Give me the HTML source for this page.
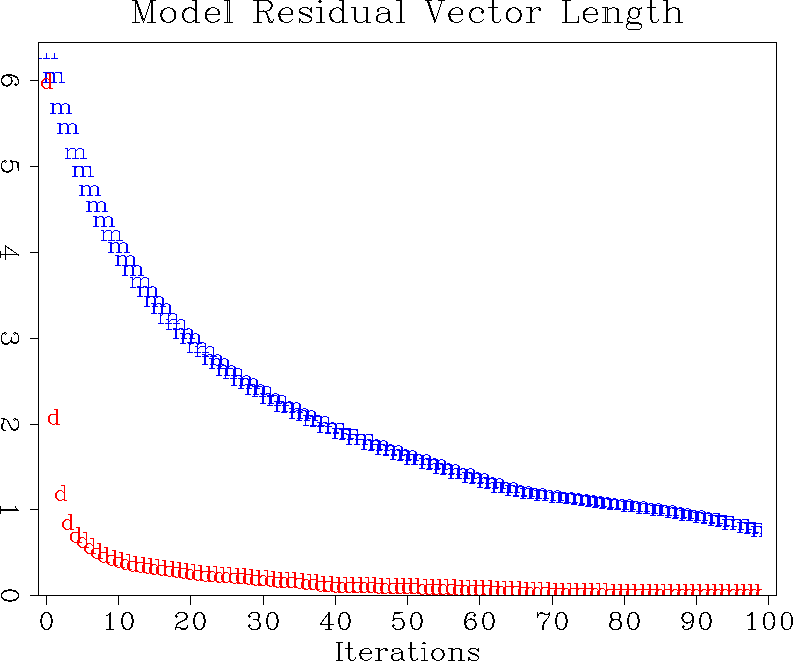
<!DOCTYPE html>
<html><head><meta charset="utf-8"><title>Model Residual Vector Length</title>
<style>
html,body{margin:0;padding:0;background:#fff;}
body{width:793px;height:661px;overflow:hidden;font-family:"Liberation Serif",serif;}
svg{display:block;}
</style></head><body>
<svg width="793" height="661" viewBox="0 0 793 661">
<defs>

<clipPath id="cp"><rect x="39" y="53" width="723" height="542"/></clipPath></defs>
<rect width="793" height="661" fill="#fff"/>
<defs><path id="mf" d="M0 -11h11v1h-11zM12 -11h7v1h-7zM2 -10h3v1h-3zM9 -10h3v1h-3zM17 -10h2v1h-2zM2 -9h2v1h-2zM10 -9h2v1h-2zM18 -9h1v1h-1zM2 -8h2v1h-2zM10 -8h2v1h-2zM18 -8h1v1h-1zM2 -7h2v1h-2zM10 -7h2v1h-2zM18 -7h1v1h-1zM2 -6h2v1h-2zM10 -6h2v1h-2zM18 -6h1v1h-1zM2 -5h2v1h-2zM10 -5h2v1h-2zM18 -5h1v1h-1zM2 -4h2v1h-2zM10 -4h2v1h-2zM18 -4h1v1h-1zM2 -3h2v1h-2zM10 -3h2v1h-2zM18 -3h1v1h-1zM2 -2h2v1h-2zM10 -2h2v1h-2zM18 -2h1v1h-1zM0 -1h6v1h-6zM8 -1h6v1h-6zM16 -1h6v1h-6z"/><path id="mh" d="M0 -11h4v1h-4zM6 -11h4v1h-4zM14 -11h3v1h-3zM2 -10h4v1h-4zM9 -10h2v1h-2zM12 -10h2v1h-2zM17 -10h2v1h-2zM2 -9h2v1h-2zM10 -9h2v1h-2zM18 -9h2v1h-2zM2 -8h2v1h-2zM10 -8h2v1h-2zM18 -8h2v1h-2zM2 -7h2v1h-2zM10 -7h2v1h-2zM18 -7h2v1h-2zM2 -6h2v1h-2zM10 -6h2v1h-2zM18 -6h2v1h-2zM2 -5h2v1h-2zM10 -5h2v1h-2zM18 -5h2v1h-2zM2 -4h2v1h-2zM10 -4h2v1h-2zM18 -4h2v1h-2zM2 -3h2v1h-2zM10 -3h2v1h-2zM18 -3h2v1h-2zM2 -2h2v1h-2zM10 -2h2v1h-2zM18 -2h2v1h-2zM0 -1h6v1h-6zM8 -1h6v1h-6zM16 -1h6v1h-6z"/><path id="mt" d="M0 -11h3v1h-3zM5 -11h5v1h-5zM13 -11h4v1h-4zM2 -10h1v1h-1zM4 -10h1v1h-1zM10 -10h1v1h-1zM12 -10h1v1h-1zM17 -10h2v1h-2zM2 -9h2v1h-2zM10 -9h2v1h-2zM18 -9h1v1h-1zM2 -8h1v1h-1zM10 -8h1v1h-1zM18 -8h1v1h-1zM2 -7h1v1h-1zM10 -7h1v1h-1zM18 -7h1v1h-1zM2 -6h1v1h-1zM10 -6h1v1h-1zM18 -6h1v1h-1zM2 -5h1v1h-1zM10 -5h1v1h-1zM18 -5h1v1h-1zM2 -4h1v1h-1zM10 -4h1v1h-1zM18 -4h1v1h-1zM2 -3h1v1h-1zM10 -3h1v1h-1zM18 -3h1v1h-1zM2 -2h1v1h-1zM10 -2h1v1h-1zM18 -2h1v1h-1zM0 -1h6v1h-6zM7 -1h7v1h-7zM15 -1h7v1h-7z"/><path id="dh" d="M6 -16h4v1h-4zM8 -15h2v1h-2zM8 -14h2v1h-2zM8 -13h2v1h-2zM8 -12h2v1h-2zM2 -11h8v1h-8zM1 -10h2v1h-2zM8 -10h2v1h-2zM0 -9h2v1h-2zM8 -9h2v1h-2zM0 -8h2v1h-2zM8 -8h2v1h-2zM0 -7h2v1h-2zM8 -7h2v1h-2zM0 -6h2v1h-2zM8 -6h2v1h-2zM0 -5h2v1h-2zM8 -5h2v1h-2zM0 -4h2v1h-2zM8 -4h2v1h-2zM1 -3h2v1h-2zM8 -3h2v1h-2zM2 -2h2v1h-2zM7 -2h3v1h-3zM4 -1h3v1h-3zM8 -1h4v1h-4z"/><path id="dt" d="M6 -16h4v1h-4zM9 -15h1v1h-1zM9 -14h1v1h-1zM9 -13h1v1h-1zM9 -12h1v1h-1zM3 -11h4v1h-4zM9 -11h1v1h-1zM2 -10h2v1h-2zM7 -10h1v1h-1zM9 -10h1v1h-1zM1 -9h2v1h-2zM8 -9h2v1h-2zM0 -8h2v1h-2zM9 -8h1v1h-1zM0 -7h2v1h-2zM9 -7h1v1h-1zM0 -6h2v1h-2zM9 -6h1v1h-1zM0 -5h2v1h-2zM9 -5h1v1h-1zM0 -4h2v1h-2zM9 -4h1v1h-1zM1 -3h2v1h-2zM9 -3h1v1h-1zM2 -2h2v1h-2zM7 -2h3v1h-3zM3 -1h4v1h-4zM9 -1h3v1h-3z"/><path id="dm" d="M6 -16h4v1h-4zM8 -15h2v1h-2zM8 -14h2v1h-2zM8 -13h2v1h-2zM8 -12h2v1h-2zM3 -11h4v1h-4zM8 -11h2v1h-2zM2 -10h2v1h-2zM7 -10h3v1h-3zM1 -9h2v1h-2zM8 -9h2v1h-2zM0 -8h2v1h-2zM8 -8h2v1h-2zM0 -7h2v1h-2zM8 -7h2v1h-2zM0 -6h2v1h-2zM8 -6h2v1h-2zM0 -5h2v1h-2zM8 -5h2v1h-2zM0 -4h2v1h-2zM8 -4h2v1h-2zM1 -3h2v1h-2zM8 -3h2v1h-2zM2 -2h2v1h-2zM7 -2h3v1h-3zM3 -1h4v1h-4zM8 -1h4v1h-4z"/></defs>
<g clip-path="url(#cp)" shape-rendering="crispEdges">
<g fill="#0000ff">
<use href="#mt" x="36" y="59"/>
<use href="#mf" x="43" y="83"/>
<use href="#mh" x="50" y="114"/>
<use href="#mh" x="57" y="134"/>
<use href="#mt" x="65" y="159"/>
<use href="#mf" x="72" y="177"/>
<use href="#mh" x="79" y="196"/>
<use href="#mh" x="86" y="212"/>
<use href="#mh" x="93" y="227"/>
<use href="#mt" x="101" y="241"/>
<use href="#mh" x="108" y="253"/>
<use href="#mh" x="115" y="266"/>
<use href="#mh" x="122" y="276"/>
<use href="#mt" x="130" y="288"/>
<use href="#mh" x="137" y="297"/>
<use href="#mh" x="144" y="307"/>
<use href="#mh" x="151" y="314"/>
<use href="#mt" x="158" y="324"/>
<use href="#mt" x="166" y="330"/>
<use href="#mh" x="173" y="339"/>
<use href="#mh" x="180" y="344"/>
<use href="#mt" x="187" y="353"/>
<use href="#mt" x="195" y="357"/>
<use href="#mh" x="202" y="365"/>
<use href="#mh" x="209" y="369"/>
<use href="#mh" x="216" y="376"/>
<use href="#mt" x="223" y="379"/>
<use href="#mh" x="231" y="386"/>
<use href="#mh" x="238" y="389"/>
<use href="#mh" x="245" y="395"/>
<use href="#mt" x="252" y="397"/>
<use href="#mh" x="260" y="404"/>
<use href="#mt" x="267" y="406"/>
<use href="#mh" x="274" y="412"/>
<use href="#mh" x="281" y="413"/>
<use href="#mh" x="289" y="419"/>
<use href="#mh" x="296" y="421"/>
<use href="#mt" x="303" y="426"/>
<use href="#mt" x="310" y="427"/>
<use href="#mh" x="317" y="433"/>
<use href="#mf" x="325" y="434"/>
<use href="#mf" x="332" y="439"/>
<use href="#mf" x="339" y="440"/>
<use href="#mf" x="346" y="445"/>
<use href="#mf" x="354" y="445"/>
<use href="#mh" x="361" y="450"/>
<use href="#mh" x="368" y="451"/>
<use href="#mh" x="375" y="455"/>
<use href="#mh" x="383" y="456"/>
<use href="#mh" x="390" y="460"/>
<use href="#mh" x="397" y="461"/>
<use href="#mh" x="404" y="465"/>
<use href="#mh" x="411" y="465"/>
<use href="#mh" x="419" y="469"/>
<use href="#mh" x="426" y="470"/>
<use href="#mh" x="433" y="474"/>
<use href="#mh" x="440" y="475"/>
<use href="#mh" x="448" y="479"/>
<use href="#mh" x="455" y="479"/>
<use href="#mh" x="462" y="483"/>
<use href="#mh" x="469" y="484"/>
<use href="#mh" x="477" y="488"/>
<use href="#mh" x="484" y="489"/>
<use href="#mh" x="491" y="493"/>
<use href="#mh" x="498" y="493"/>
<use href="#mh" x="505" y="496"/>
<use href="#mh" x="513" y="497"/>
<use href="#mh" x="520" y="499"/>
<use href="#mh" x="527" y="499"/>
<use href="#mh" x="534" y="501"/>
<use href="#mh" x="542" y="501"/>
<use href="#mh" x="549" y="503"/>
<use href="#mh" x="556" y="503"/>
<use href="#mh" x="563" y="504"/>
<use href="#mh" x="571" y="505"/>
<use href="#mh" x="578" y="506"/>
<use href="#mh" x="585" y="507"/>
<use href="#mh" x="592" y="508"/>
<use href="#mh" x="599" y="509"/>
<use href="#mh" x="607" y="510"/>
<use href="#mh" x="614" y="510"/>
<use href="#mh" x="621" y="512"/>
<use href="#mh" x="628" y="512"/>
<use href="#mh" x="636" y="514"/>
<use href="#mh" x="643" y="514"/>
<use href="#mh" x="650" y="516"/>
<use href="#mh" x="657" y="516"/>
<use href="#mh" x="665" y="518"/>
<use href="#mh" x="672" y="519"/>
<use href="#mh" x="679" y="521"/>
<use href="#mh" x="686" y="521"/>
<use href="#mh" x="693" y="523"/>
<use href="#mf" x="701" y="524"/>
<use href="#mf" x="708" y="526"/>
<use href="#mf" x="715" y="527"/>
<use href="#mf" x="722" y="530"/>
<use href="#mf" x="730" y="530"/>
<use href="#mf" x="737" y="533"/>
<use href="#mf" x="744" y="534"/>
<use href="#mf" x="751" y="537"/>
</g><g fill="#ff0000">
<use href="#dm" x="41" y="89"/>
<use href="#dh" x="48" y="425"/>
<use href="#dt" x="55" y="501"/>
<use href="#dm" x="62" y="530"/>
<use href="#dh" x="70" y="543"/>
<use href="#dt" x="77" y="548"/>
<use href="#dt" x="84" y="554"/>
<use href="#dh" x="91" y="559"/>
<use href="#dh" x="98" y="563"/>
<use href="#dh" x="106" y="566"/>
<use href="#dh" x="113" y="568"/>
<use href="#dt" x="120" y="570"/>
<use href="#dh" x="127" y="572"/>
<use href="#dh" x="135" y="573"/>
<use href="#dh" x="142" y="574"/>
<use href="#dt" x="149" y="575"/>
<use href="#dh" x="156" y="576"/>
<use href="#dh" x="164" y="577"/>
<use href="#dh" x="171" y="578"/>
<use href="#dh" x="178" y="579"/>
<use href="#dt" x="185" y="580"/>
<use href="#dh" x="192" y="581"/>
<use href="#dh" x="200" y="582"/>
<use href="#dt" x="207" y="582"/>
<use href="#dt" x="214" y="583"/>
<use href="#dt" x="221" y="583"/>
<use href="#dh" x="229" y="584"/>
<use href="#dh" x="236" y="584"/>
<use href="#dh" x="243" y="585"/>
<use href="#dh" x="250" y="586"/>
<use href="#dt" x="258" y="586"/>
<use href="#dh" x="265" y="587"/>
<use href="#dh" x="272" y="588"/>
<use href="#dt" x="279" y="588"/>
<use href="#dh" x="286" y="588"/>
<use href="#dh" x="294" y="589"/>
<use href="#dt" x="301" y="590"/>
<use href="#dh" x="308" y="590"/>
<use href="#dh" x="315" y="592"/>
<use href="#dh" x="323" y="592"/>
<use href="#dh" x="330" y="593"/>
<use href="#dt" x="337" y="593"/>
<use href="#dh" x="344" y="593"/>
<use href="#dh" x="352" y="593"/>
<use href="#dt" x="359" y="593"/>
<use href="#dh" x="366" y="593"/>
<use href="#dh" x="373" y="594"/>
<use href="#dt" x="380" y="594"/>
<use href="#dh" x="388" y="594"/>
<use href="#dh" x="395" y="594"/>
<use href="#dh" x="402" y="594"/>
<use href="#dh" x="409" y="594"/>
<use href="#dt" x="417" y="595"/>
<use href="#dh" x="424" y="595"/>
<use href="#dh" x="431" y="595"/>
<use href="#dt" x="438" y="595"/>
<use href="#dh" x="446" y="595"/>
<use href="#dh" x="453" y="596"/>
<use href="#dt" x="460" y="596"/>
<use href="#dh" x="467" y="596"/>
<use href="#dh" x="474" y="596"/>
<use href="#dh" x="482" y="596"/>
<use href="#dh" x="489" y="597"/>
<use href="#dt" x="496" y="597"/>
<use href="#dh" x="503" y="597"/>
<use href="#dh" x="511" y="597"/>
<use href="#dh" x="518" y="598"/>
<use href="#dt" x="525" y="598"/>
<use href="#dt" x="532" y="598"/>
<use href="#dh" x="540" y="598"/>
<use href="#dh" x="547" y="599"/>
<use href="#dh" x="554" y="599"/>
<use href="#dt" x="561" y="599"/>
<use href="#dh" x="568" y="599"/>
<use href="#dh" x="576" y="599"/>
<use href="#dh" x="583" y="599"/>
<use href="#dt" x="590" y="599"/>
<use href="#dt" x="597" y="599"/>
<use href="#dh" x="605" y="600"/>
<use href="#dh" x="612" y="600"/>
<use href="#dh" x="619" y="600"/>
<use href="#dh" x="626" y="600"/>
<use href="#dh" x="634" y="600"/>
<use href="#dh" x="641" y="600"/>
<use href="#dh" x="648" y="600"/>
<use href="#dt" x="655" y="600"/>
<use href="#dh" x="662" y="600"/>
<use href="#dm" x="670" y="600"/>
<use href="#dm" x="677" y="600"/>
<use href="#dm" x="684" y="600"/>
<use href="#dm" x="691" y="600"/>
<use href="#dm" x="699" y="600"/>
<use href="#dm" x="706" y="600"/>
<use href="#dm" x="713" y="600"/>
<use href="#dm" x="720" y="600"/>
<use href="#dm" x="728" y="600"/>
<use href="#dm" x="735" y="600"/>
<use href="#dm" x="742" y="600"/>
<use href="#dm" x="749" y="600"/>
<use href="#dm" x="756" y="600"/>
</g></g>
<g stroke="#000" stroke-width="1" fill="none" shape-rendering="crispEdges">
<rect x="38.5" y="42.5" width="738" height="553"/>
<line x1="46.5" y1="595.5" x2="46.5" y2="605"/>
<line x1="118.5" y1="595.5" x2="118.5" y2="605"/>
<line x1="190.5" y1="595.5" x2="190.5" y2="605"/>
<line x1="263.5" y1="595.5" x2="263.5" y2="605"/>
<line x1="335.5" y1="595.5" x2="335.5" y2="605"/>
<line x1="407.5" y1="595.5" x2="407.5" y2="605"/>
<line x1="479.5" y1="595.5" x2="479.5" y2="605"/>
<line x1="552.5" y1="595.5" x2="552.5" y2="605"/>
<line x1="624.5" y1="595.5" x2="624.5" y2="605"/>
<line x1="696.5" y1="595.5" x2="696.5" y2="605"/>
<line x1="768.5" y1="595.5" x2="768.5" y2="605"/>
<line x1="30" y1="595.5" x2="38.5" y2="595.5"/>
<line x1="30" y1="509.5" x2="38.5" y2="509.5"/>
<line x1="30" y1="424.5" x2="38.5" y2="424.5"/>
<line x1="30" y1="338.5" x2="38.5" y2="338.5"/>
<line x1="30" y1="252.5" x2="38.5" y2="252.5"/>
<line x1="30" y1="166.5" x2="38.5" y2="166.5"/>
<line x1="30" y1="80.5" x2="38.5" y2="80.5"/>
</g>
<g stroke="#000" stroke-width="1" fill="none" stroke-linecap="square" id="ht" shape-rendering="crispEdges">
<path d="M135.8 0.5L143.4 22.5M151 0.5L143.4 22.5M135.8 0.5L135.8 22.5M151 0.5L151 22.5M152.1 0.5L152.1 22.5M136.9 0.5L143.4 19.4M147.8 22.5L155.3 22.5M132.6 22.5L139.1 22.5M132.6 0.5L136.9 0.5M151 0.5L155.3 0.5M167.3 7.8L164 8.9M169.4 7.8L172.7 8.9M161.8 11L160.8 14.1M162.9 11L161.8 14.1M173.8 11L174.8 14.1M174.8 11L175.9 14.1M160.8 16.2L161.8 19.4M161.8 16.2L162.9 19.4M174.8 16.2L173.8 19.4M175.9 16.2L174.8 19.4M164 21.5L167.3 22.5M172.7 21.5L169.4 22.5M164 8.9L161.8 11M165.1 8.9L162.9 11M171.6 8.9L173.8 11M172.7 8.9L174.8 11M161.8 19.4L164 21.5M162.9 19.4L165.1 21.5M173.8 19.4L171.6 21.5M174.8 19.4L172.7 21.5M167.3 7.8L165.1 8.9M169.4 7.8L171.6 8.9M165.1 21.5L167.3 22.5M171.6 21.5L169.4 22.5M167.3 7.8L169.4 7.8M160.8 14.1L160.8 16.2M161.8 14.1L161.8 16.2M174.8 14.1L174.8 16.2M175.9 14.1L175.9 16.2M167.3 22.5L169.4 22.5M195.4 0.5L195.4 22.5M196.5 0.5L196.5 22.5M192.2 0.5L196.5 0.5M195.4 22.5L199.7 22.5M188.9 7.8L185.7 8.9M183.5 11L182.4 14.1M184.6 11L183.5 14.1M182.4 16.2L183.5 19.4M183.5 16.2L184.6 19.4M185.7 21.5L188.9 22.5M185.7 8.9L183.5 11M186.8 8.9L184.6 11M193.2 8.9L195.4 11M183.5 19.4L185.7 21.5M184.6 19.4L186.8 21.5M195.4 19.4L193.2 21.5M188.9 7.8L186.8 8.9M191.1 7.8L193.2 8.9M186.8 21.5L188.9 22.5M193.2 21.5L191.1 22.5M188.9 7.8L191.1 7.8M182.4 14.1L182.4 16.2M183.5 14.1L183.5 16.2M188.9 22.5L191.1 22.5M206.2 14.1L219.2 14.1M218.2 9.9L218.2 14.1M211.7 7.8L208.4 8.9M206.2 11L205.2 14.1M207.3 11L206.2 14.1M205.2 16.2L206.2 19.4M206.2 16.2L207.3 19.4M208.4 21.5L211.7 22.5M217.1 21.5L213.8 22.5M211.7 7.8L214.9 7.8M208.4 8.9L206.2 11M209.5 8.9L207.3 11M206.2 19.4L208.4 21.5M207.3 19.4L209.5 21.5M219.2 19.4L217.1 21.5M211.7 7.8L209.5 8.9M214.9 7.8L217.1 8.9M217.1 8.9L218.2 11M218.2 9.9L219.2 12M209.5 21.5L211.7 22.5M219.2 12L219.2 14.1M205.2 14.1L205.2 16.2M206.2 14.1L206.2 16.2M211.7 22.5L213.8 22.5M217.1 8.9L218.2 9.9M227.9 0.5L227.9 22.5M229 0.5L229 22.5M224.7 22.5L232.2 22.5M224.7 0.5L229 0.5M257.1 0.5L257.1 22.5M258.2 0.5L258.2 22.5M253.9 0.5L266.9 0.5M258.2 11L266.9 11M266.9 13.1L270.1 20.4M266.9 14.1L269.1 21.5M253.9 22.5L261.5 22.5M266.9 0.5L270.1 1.5M270.1 9.9L266.9 11M266.9 0.5L269.1 1.5M270.1 2.6L271.2 4.7M271.2 2.6L272.3 4.7M271.2 6.8L270.1 8.9M272.3 6.8L271.2 8.9M269.1 9.9L266.9 11M263.6 11L265.8 12M265.8 12L266.9 14.1M273.4 20.4L272.3 22.5M271.2 4.7L271.2 6.8M272.3 4.7L272.3 6.8M270.1 22.5L272.3 22.5M269.1 1.5L270.1 2.6M270.1 1.5L271.2 2.6M270.1 8.9L269.1 9.9M271.2 8.9L270.1 9.9M265.8 12L266.9 13.1M270.1 20.4L271.2 21.5M273.4 20.4L272.3 21.5M269.1 21.5L270.1 22.5M273.4 19.4L273.4 20.4M271.2 21.5L272.3 21.5M279.9 14.1L292.9 14.1M291.8 9.9L291.8 14.1M285.3 7.8L282.1 8.9M279.9 11L278.8 14.1M281 11L279.9 14.1M278.8 16.2L279.9 19.4M279.9 16.2L281 19.4M282.1 21.5L285.3 22.5M290.7 21.5L287.5 22.5M285.3 7.8L288.6 7.8M282.1 8.9L279.9 11M283.1 8.9L281 11M279.9 19.4L282.1 21.5M281 19.4L283.1 21.5M292.9 19.4L290.7 21.5M285.3 7.8L283.1 8.9M288.6 7.8L290.7 8.9M290.7 8.9L291.8 11M291.8 9.9L292.9 12M283.1 21.5L285.3 22.5M292.9 12L292.9 14.1M278.8 14.1L278.8 16.2M279.9 14.1L279.9 16.2M285.3 22.5L287.5 22.5M290.7 8.9L291.8 9.9M300.5 12L310.2 16.2M300.5 13.1L310.2 17.3M302.6 7.8L307 7.8M311.3 7.8L311.3 12M299.4 18.3L299.4 22.5M303.7 22.5L308 22.5M311.3 17.3L311.3 20.4M302.6 7.8L300.5 8.9M307 7.8L309.1 8.9M311.3 7.8L310.2 9.9M310.2 9.9L311.3 12M299.4 18.3L300.5 20.4M300.5 20.4L299.4 22.5M301.5 21.5L303.7 22.5M310.2 21.5L308 22.5M299.4 9.9L299.4 12M300.5 8.9L299.4 9.9M309.1 8.9L310.2 9.9M299.4 11L300.5 12M299.4 12L300.5 13.1M310.2 16.2L311.3 17.3M310.2 17.3L311.3 18.3M300.5 20.4L301.5 21.5M311.3 20.4L310.2 21.5M320 7.8L320 22.5M321 7.8L321 22.5M316.7 22.5L324.3 22.5M316.7 7.8L321 7.8M320 0.5L318.9 1.5M320 0.5L321 1.5M318.9 1.5L320 2.6M321 1.5L320 2.6M318.9 1.5L321 1.5M342.7 0.5L342.7 22.5M343.8 0.5L343.8 22.5M339.5 0.5L343.8 0.5M342.7 22.5L347 22.5M336.2 7.8L333 8.9M330.8 11L329.7 14.1M331.9 11L330.8 14.1M329.7 16.2L330.8 19.4M330.8 16.2L331.9 19.4M333 21.5L336.2 22.5M333 8.9L330.8 11M334 8.9L331.9 11M340.5 8.9L342.7 11M330.8 19.4L333 21.5M331.9 19.4L334 21.5M342.7 19.4L340.5 21.5M336.2 7.8L334 8.9M338.4 7.8L340.5 8.9M334 21.5L336.2 22.5M340.5 21.5L338.4 22.5M336.2 7.8L338.4 7.8M329.7 14.1L329.7 16.2M330.8 14.1L330.8 16.2M336.2 22.5L338.4 22.5M366.5 7.8L366.5 22.5M367.6 7.8L367.6 22.5M354.6 7.8L354.6 19.4M355.7 7.8L355.7 19.4M351.4 7.8L355.7 7.8M363.3 7.8L367.6 7.8M366.5 22.5L370.9 22.5M355.7 21.5L358.9 22.5M364.4 21.5L361.1 22.5M366.5 19.4L364.4 21.5M354.6 19.4L355.7 21.5M355.7 19.4L356.8 21.5M356.8 21.5L358.9 22.5M358.9 22.5L361.1 22.5M388.2 9.9L388.2 19.4M389.3 12L389.3 19.4M387.1 13.1L380.6 14.1M380.6 7.8L384.9 7.8M380.6 14.1L377.4 15.2M377.4 21.5L380.6 22.5M380.6 22.5L383.9 22.5M388.2 19.4L386 21.5M380.6 7.8L378.4 8.9M384.9 7.8L387.1 8.9M388.2 9.9L389.3 12M380.6 14.1L378.4 15.2M377.4 15.2L376.3 17.3M378.4 15.2L377.4 17.3M376.3 19.4L377.4 21.5M377.4 19.4L378.4 21.5M388.2 19.4L389.3 21.5M389.3 19.4L390.4 21.5M378.4 21.5L380.6 22.5M386 21.5L383.9 22.5M389.3 21.5L391.4 22.5M376.3 17.3L376.3 19.4M377.4 17.3L377.4 19.4M378.4 8.9L377.4 9.9M387.1 8.9L388.2 9.9M388.2 12L387.1 13.1M390.4 21.5L391.4 22.5M377.4 9.9L377.4 11M378.4 9.9L378.4 11M377.4 11L378.4 11M391.4 22.5L392.5 22.5M400.1 0.5L400.1 22.5M401.2 0.5L401.2 22.5M396.9 22.5L404.4 22.5M396.9 0.5L401.2 0.5M427.2 0.5L434.8 22.5M442.3 0.5L434.8 22.5M428.3 0.5L434.8 19.4M425 0.5L431.5 0.5M438 0.5L444.5 0.5M449.9 14.1L462.9 14.1M461.8 9.9L461.8 14.1M455.3 7.8L452.1 8.9M449.9 11L448.8 14.1M451 11L449.9 14.1M448.8 16.2L449.9 19.4M449.9 16.2L451 19.4M452.1 21.5L455.3 22.5M460.7 21.5L457.5 22.5M455.3 7.8L458.6 7.8M452.1 8.9L449.9 11M453.2 8.9L451 11M449.9 19.4L452.1 21.5M451 19.4L453.2 21.5M462.9 19.4L460.7 21.5M455.3 7.8L453.2 8.9M458.6 7.8L460.7 8.9M460.7 8.9L461.8 11M461.8 9.9L462.9 12M453.2 21.5L455.3 22.5M462.9 12L462.9 14.1M448.8 14.1L448.8 16.2M449.9 14.1L449.9 16.2M455.3 22.5L457.5 22.5M460.7 8.9L461.8 9.9M475.9 7.8L472.7 8.9M470.5 11L469.4 14.1M471.6 11L470.5 14.1M469.4 16.2L470.5 19.4M470.5 16.2L471.6 19.4M472.7 21.5L475.9 22.5M481.3 21.5L478.1 22.5M475.9 7.8L479.2 7.8M472.7 8.9L470.5 11M473.7 8.9L471.6 11M481.3 8.9L483.5 11M470.5 19.4L472.7 21.5M471.6 19.4L473.7 21.5M483.5 19.4L481.3 21.5M475.9 7.8L473.7 8.9M479.2 7.8L481.3 8.9M473.7 21.5L475.9 22.5M469.4 14.1L469.4 16.2M470.5 14.1L470.5 16.2M475.9 22.5L478.1 22.5M482.4 11L481.3 12M481.3 12L482.4 13.1M483.5 12L482.4 13.1M483.5 11L483.5 12M492.2 0.5L492.2 18.3M493.2 0.5L493.2 18.3M488.9 7.8L497.6 7.8M492.2 18.3L493.2 21.5M493.2 18.3L494.3 21.5M500.8 19.4L499.7 21.5M493.2 21.5L495.4 22.5M499.7 21.5L497.6 22.5M495.4 22.5L497.6 22.5M494.3 21.5L495.4 22.5M512.7 7.8L509.5 8.9M514.9 7.8L518.1 8.9M507.3 11L506.2 14.1M508.4 11L507.3 14.1M519.2 11L520.3 14.1M520.3 11L521.4 14.1M506.2 16.2L507.3 19.4M507.3 16.2L508.4 19.4M520.3 16.2L519.2 19.4M521.4 16.2L520.3 19.4M509.5 21.5L512.7 22.5M518.1 21.5L514.9 22.5M509.5 8.9L507.3 11M510.6 8.9L508.4 11M517.1 8.9L519.2 11M518.1 8.9L520.3 11M507.3 19.4L509.5 21.5M508.4 19.4L510.6 21.5M519.2 19.4L517.1 21.5M520.3 19.4L518.1 21.5M512.7 7.8L510.6 8.9M514.9 7.8L517.1 8.9M510.6 21.5L512.7 22.5M517.1 21.5L514.9 22.5M512.7 7.8L514.9 7.8M506.2 14.1L506.2 16.2M507.3 14.1L507.3 16.2M520.3 14.1L520.3 16.2M521.4 14.1L521.4 16.2M512.7 22.5L514.9 22.5M530.1 7.8L530.1 22.5M531.1 7.8L531.1 22.5M526.8 22.5L534.4 22.5M526.8 7.8L531.1 7.8M532.2 11L531.1 14.1M536.6 7.8L539.8 7.8M534.4 8.9L532.2 11M536.6 7.8L534.4 8.9M539.8 7.8L540.9 8.9M539.8 8.9L538.7 9.9M538.7 9.9L539.8 11M540.9 9.9L539.8 11M540.9 8.9L540.9 9.9M565.8 0.5L565.8 22.5M566.9 0.5L566.9 22.5M562.6 22.5L578.8 22.5M562.6 0.5L570.1 0.5M578.8 16.2L577.7 22.5M578.8 16.2L578.8 22.5M584.2 14.1L597.2 14.1M596.1 9.9L596.1 14.1M589.6 7.8L586.4 8.9M584.2 11L583.1 14.1M585.3 11L584.2 14.1M583.1 16.2L584.2 19.4M584.2 16.2L585.3 19.4M586.4 21.5L589.6 22.5M595 21.5L591.8 22.5M589.6 7.8L592.9 7.8M586.4 8.9L584.2 11M587.5 8.9L585.3 11M584.2 19.4L586.4 21.5M585.3 19.4L587.5 21.5M597.2 19.4L595 21.5M589.6 7.8L587.5 8.9M592.9 7.8L595 8.9M595 8.9L596.1 11M596.1 9.9L597.2 12M587.5 21.5L589.6 22.5M597.2 12L597.2 14.1M583.1 14.1L583.1 16.2M584.2 14.1L584.2 16.2M589.6 22.5L591.8 22.5M595 8.9L596.1 9.9M605.9 7.8L605.9 22.5M607 7.8L607 22.5M617.8 11L617.8 22.5M618.9 11L618.9 22.5M602.6 22.5L610.2 22.5M614.5 22.5L622.1 22.5M602.6 7.8L607 7.8M612.4 7.8L609.1 8.9M614.5 7.8L617.8 8.9M609.1 8.9L607 11M614.5 7.8L616.7 8.9M616.7 8.9L617.8 11M617.8 8.9L618.9 11M612.4 7.8L614.5 7.8M629.7 9.9L629.7 16.2M638.4 9.9L638.4 16.2M630.8 29.8L637.3 29.8M631.9 22.5L637.3 22.5M631.9 23.5L637.3 23.5M628.6 21.5L631.9 22.5M628.6 22.5L631.9 23.5M630.8 22.5L627.5 23.5M637.3 22.5L640.5 23.5M637.3 23.5L640.5 24.6M627.5 28.8L630.8 29.8M640.5 28.8L637.3 29.8M632.9 7.8L630.8 8.9M635.1 7.8L637.3 8.9M641.6 7.8L639.4 8.9M630.8 8.9L629.7 11M637.3 8.9L638.4 11M629.7 9.9L628.6 12M638.4 9.9L639.4 12M628.6 14.1L629.7 16.2M639.4 14.1L638.4 16.2M629.7 15.2L630.8 17.3M638.4 15.2L637.3 17.3M628.6 17.3L627.5 19.4M630.8 17.3L632.9 18.3M637.3 17.3L635.1 18.3M627.5 20.4L628.6 22.5M627.5 23.5L626.4 25.6M640.5 23.5L641.6 25.6M626.4 26.7L627.5 28.8M641.6 26.7L640.5 28.8M632.9 7.8L635.1 7.8M639.4 8.9L641.6 8.9M628.6 12L628.6 14.1M639.4 12L639.4 14.1M632.9 18.3L635.1 18.3M630.8 8.9L629.7 9.9M637.3 8.9L638.4 9.9M639.4 8.9L638.4 9.9M629.7 16.2L628.6 17.3M629.7 16.2L630.8 17.3M638.4 16.2L637.3 17.3M627.5 20.4L628.6 21.5M640.5 24.6L641.6 25.6M641.6 7.8L641.6 8.9M627.5 19.4L627.5 20.4M626.4 25.6L626.4 26.7M641.6 25.6L641.6 26.7M650.3 0.5L650.3 18.3M651.4 0.5L651.4 18.3M647 7.8L655.7 7.8M650.3 18.3L651.4 21.5M651.4 18.3L652.4 21.5M658.9 19.4L657.9 21.5M651.4 21.5L653.5 22.5M657.9 21.5L655.7 22.5M653.5 22.5L655.7 22.5M652.4 21.5L653.5 22.5M666.5 0.5L666.5 22.5M667.6 0.5L667.6 22.5M678.4 11L678.4 22.5M679.5 11L679.5 22.5M663.3 22.5L670.9 22.5M675.2 22.5L682.8 22.5M663.3 0.5L667.6 0.5M673 7.8L669.8 8.9M675.2 7.8L678.4 8.9M669.8 8.9L667.6 11M675.2 7.8L677.3 8.9M677.3 8.9L678.4 11M678.4 8.9L679.5 11M673 7.8L675.2 7.8"/>
<path d="M338.8 642.5L338.8 660.5M339.7 642.5L339.7 660.5M336.2 642.5L342.3 642.5M336.2 660.5L342.3 660.5M348.5 642.5L348.5 657.1M349.4 642.5L349.4 657.1M345.9 648.5L352.9 648.5M348.5 657.1L349.4 659.6M349.4 657.1L350.2 659.6M355.5 657.9L354.6 659.6M349.4 659.6L351.1 660.5M354.6 659.6L352.9 660.5M351.1 660.5L352.9 660.5M350.2 659.6L351.1 660.5M360.8 653.6L371.3 653.6M370.4 650.2L370.4 653.6M365.2 648.5L362.5 649.4M360.8 651.1L359.9 653.6M361.7 651.1L360.8 653.6M359.9 655.4L360.8 657.9M360.8 655.4L361.7 657.9M362.5 659.6L365.2 660.5M369.6 659.6L366.9 660.5M365.2 648.5L367.8 648.5M362.5 649.4L360.8 651.1M363.4 649.4L361.7 651.1M360.8 657.9L362.5 659.6M361.7 657.9L363.4 659.6M371.3 657.9L369.6 659.6M365.2 648.5L363.4 649.4M367.8 648.5L369.6 649.4M369.6 649.4L370.4 651.1M370.4 650.2L371.3 651.9M363.4 659.6L365.2 660.5M371.3 651.9L371.3 653.6M359.9 653.6L359.9 655.4M360.8 653.6L360.8 655.4M365.2 660.5L366.9 660.5M369.6 649.4L370.4 650.2M378.3 648.5L378.3 660.5M379.2 648.5L379.2 660.5M375.7 660.5L381.9 660.5M375.7 648.5L379.2 648.5M380.1 651.1L379.2 653.6M383.6 648.5L386.2 648.5M381.9 649.4L380.1 651.1M383.6 648.5L381.9 649.4M386.2 648.5L387.1 649.4M386.2 649.4L385.4 650.2M385.4 650.2L386.2 651.1M387.1 650.2L386.2 651.1M387.1 649.4L387.1 650.2M401.2 650.2L401.2 657.9M402.1 651.9L402.1 657.9M400.3 652.8L395 653.6M395 648.5L398.5 648.5M395 653.6L392.4 654.5M392.4 659.6L395 660.5M395 660.5L397.7 660.5M401.2 657.9L399.4 659.6M395 648.5L393.3 649.4M398.5 648.5L400.3 649.4M401.2 650.2L402.1 651.9M395 653.6L393.3 654.5M392.4 654.5L391.5 656.2M393.3 654.5L392.4 656.2M391.5 657.9L392.4 659.6M392.4 657.9L393.3 659.6M401.2 657.9L402.1 659.6M402.1 657.9L402.9 659.6M393.3 659.6L395 660.5M399.4 659.6L397.7 660.5M402.1 659.6L403.8 660.5M391.5 656.2L391.5 657.9M392.4 656.2L392.4 657.9M393.3 649.4L392.4 650.2M400.3 649.4L401.2 650.2M401.2 651.9L400.3 652.8M402.9 659.6L403.8 660.5M392.4 650.2L392.4 651.1M393.3 650.2L393.3 651.1M392.4 651.1L393.3 651.1M403.8 660.5L404.7 660.5M410.8 642.5L410.8 657.1M411.7 642.5L411.7 657.1M408.2 648.5L415.2 648.5M410.8 657.1L411.7 659.6M411.7 657.1L412.6 659.6M417.9 657.9L417 659.6M411.7 659.6L413.5 660.5M417 659.6L415.2 660.5M413.5 660.5L415.2 660.5M412.6 659.6L413.5 660.5M424 648.5L424 660.5M424.9 648.5L424.9 660.5M421.4 660.5L427.5 660.5M421.4 648.5L424.9 648.5M424 642.5L423.1 643.4M424 642.5L424.9 643.4M423.1 643.4L424 644.2M424.9 643.4L424 644.2M423.1 643.4L424.9 643.4M437.2 648.5L434.5 649.4M438.9 648.5L441.6 649.4M432.8 651.1L431.9 653.6M433.7 651.1L432.8 653.6M442.4 651.1L443.3 653.6M443.3 651.1L444.2 653.6M431.9 655.4L432.8 657.9M432.8 655.4L433.7 657.9M443.3 655.4L442.4 657.9M444.2 655.4L443.3 657.9M434.5 659.6L437.2 660.5M441.6 659.6L438.9 660.5M434.5 649.4L432.8 651.1M435.4 649.4L433.7 651.1M440.7 649.4L442.4 651.1M441.6 649.4L443.3 651.1M432.8 657.9L434.5 659.6M433.7 657.9L435.4 659.6M442.4 657.9L440.7 659.6M443.3 657.9L441.6 659.6M437.2 648.5L435.4 649.4M438.9 648.5L440.7 649.4M435.4 659.6L437.2 660.5M440.7 659.6L438.9 660.5M437.2 648.5L438.9 648.5M431.9 653.6L431.9 655.4M432.8 653.6L432.8 655.4M443.3 653.6L443.3 655.4M444.2 653.6L444.2 655.4M437.2 660.5L438.9 660.5M451.2 648.5L451.2 660.5M452.1 648.5L452.1 660.5M460.9 651.1L460.9 660.5M461.8 651.1L461.8 660.5M448.6 660.5L454.7 660.5M458.2 660.5L464.4 660.5M448.6 648.5L452.1 648.5M456.5 648.5L453.9 649.4M458.2 648.5L460.9 649.4M453.9 649.4L452.1 651.1M458.2 648.5L460 649.4M460 649.4L460.9 651.1M460.9 649.4L461.8 651.1M456.5 648.5L458.2 648.5M469.7 651.9L477.6 655.4M469.7 652.8L477.6 656.2M471.4 648.5L474.9 648.5M478.4 648.5L478.4 651.9M468.8 657.1L468.8 660.5M472.3 660.5L475.8 660.5M478.4 656.2L478.4 658.8M471.4 648.5L469.7 649.4M474.9 648.5L476.7 649.4M478.4 648.5L477.6 650.2M477.6 650.2L478.4 651.9M468.8 657.1L469.7 658.8M469.7 658.8L468.8 660.5M470.5 659.6L472.3 660.5M477.6 659.6L475.8 660.5M468.8 650.2L468.8 651.9M469.7 649.4L468.8 650.2M476.7 649.4L477.6 650.2M468.8 651.1L469.7 651.9M468.8 651.9L469.7 652.8M477.6 655.4L478.4 656.2M477.6 656.2L478.4 657.1M469.7 658.8L470.5 659.6M478.4 658.8L477.6 659.6"/>
<path d="M41.6 615.7L40.8 619.8M42.5 615.7L41.6 619.8M50.5 615.7L51.4 619.8M51.4 615.7L52.2 619.8M40.8 622.2L41.6 626.3M41.6 622.2L42.5 626.3M51.4 622.2L50.5 626.3M52.2 622.2L51.4 626.3M43.3 613.3L41.6 615.7M49.7 613.3L51.4 615.7M41.6 626.3L43.3 628.7M51.4 626.3L49.7 628.7M45.7 612.5L43.3 613.3M47.3 612.5L49.7 613.3M43.3 628.7L45.7 629.5M49.7 628.7L47.3 629.5M40.8 619.8L40.8 622.2M41.6 619.8L41.6 622.2M51.4 619.8L51.4 622.2M52.2 619.8L52.2 622.2M45.7 612.5L44.1 613.3M47.3 612.5L48.9 613.3M43.3 614.1L42.5 615.7M49.7 614.1L50.5 615.7M42.5 626.3L43.3 627.9M50.5 626.3L49.7 627.9M44.1 628.7L45.7 629.5M48.9 628.7L47.3 629.5M45.7 612.5L47.3 612.5M45.7 629.5L47.3 629.5M44.1 613.3L43.3 614.1M48.9 613.3L49.7 614.1M43.3 627.9L44.1 628.7M49.7 627.9L48.9 628.7"/>
<path d="M110.4 612.5L110.4 629.5M109.6 613.3L109.6 629.5M106.4 629.5L113.7 629.5M110.4 612.5L108 614.9M108 614.9L106.4 615.7M122.5 615.7L121.7 619.8M123.3 615.7L122.5 619.8M131.4 615.7L132.2 619.8M132.2 615.7L133.1 619.8M121.7 622.2L122.5 626.3M122.5 622.2L123.3 626.3M132.2 622.2L131.4 626.3M133.1 622.2L132.2 626.3M124.2 613.3L122.5 615.7M130.6 613.3L132.2 615.7M122.5 626.3L124.2 628.7M132.2 626.3L130.6 628.7M126.6 612.5L124.2 613.3M128.2 612.5L130.6 613.3M124.2 628.7L126.6 629.5M130.6 628.7L128.2 629.5M121.7 619.8L121.7 622.2M122.5 619.8L122.5 622.2M132.2 619.8L132.2 622.2M133.1 619.8L133.1 622.2M126.6 612.5L125 613.3M128.2 612.5L129.8 613.3M124.2 614.1L123.3 615.7M130.6 614.1L131.4 615.7M123.3 626.3L124.2 627.9M131.4 626.3L130.6 627.9M125 628.7L126.6 629.5M129.8 628.7L128.2 629.5M126.6 612.5L128.2 612.5M126.6 629.5L128.2 629.5M125 613.3L124.2 614.1M129.8 613.3L130.6 614.1M124.2 627.9L125 628.7M130.6 627.9L129.8 628.7"/>
<path d="M184 620.6L178.4 623M183.2 620.6L178.4 623M178.4 627.1L182.4 629.5M178.4 627.1L182.4 628.7M180 612.5L183.2 612.5M182.4 629.5L185.7 629.5M185.7 619L183.2 620.6M186.5 619L184 620.6M180 612.5L177.6 613.3M183.2 612.5L185.7 613.3M176.8 624.6L175.9 627.1M175.9 627.1L175.9 629.5M182.4 628.7L184.8 628.7M178.4 623L176.8 624.6M183.2 612.5L184.8 613.3M176.8 614.1L175.9 615.7M185.7 614.1L186.5 615.7M186.5 614.1L187.3 615.7M186.5 617.4L185.7 619M187.3 617.4L186.5 619M187.3 627.1L186.5 628.7M186.5 627.9L184.8 628.7M186.5 615.7L186.5 617.4M187.3 615.7L187.3 617.4M187.3 625.5L187.3 627.1M176.8 627.1L178.4 627.1M177.6 613.3L176.8 614.1M184.8 613.3L185.7 614.1M185.7 613.3L186.5 614.1M176.8 615.7L177.6 616.5M175.9 616.5L176.8 617.4M177.6 616.5L176.8 617.4M176.8 627.1L175.9 627.9M187.3 627.1L186.5 627.9M186.5 628.7L185.7 629.5M175.9 615.7L175.9 616.5M194.5 615.7L193.7 619.8M195.3 615.7L194.5 619.8M203.4 615.7L204.2 619.8M204.2 615.7L205.1 619.8M193.7 622.2L194.5 626.3M194.5 622.2L195.3 626.3M204.2 622.2L203.4 626.3M205.1 622.2L204.2 626.3M196.2 613.3L194.5 615.7M202.6 613.3L204.2 615.7M194.5 626.3L196.2 628.7M204.2 626.3L202.6 628.7M198.6 612.5L196.2 613.3M200.2 612.5L202.6 613.3M196.2 628.7L198.6 629.5M202.6 628.7L200.2 629.5M193.7 619.8L193.7 622.2M194.5 619.8L194.5 622.2M204.2 619.8L204.2 622.2M205.1 619.8L205.1 622.2M198.6 612.5L197 613.3M200.2 612.5L201.8 613.3M196.2 614.1L195.3 615.7M202.6 614.1L203.4 615.7M195.3 626.3L196.2 627.9M203.4 626.3L202.6 627.9M197 628.7L198.6 629.5M201.8 628.7L200.2 629.5M198.6 612.5L200.2 612.5M198.6 629.5L200.2 629.5M197 613.3L196.2 614.1M201.8 613.3L202.6 614.1M196.2 627.9L197 628.7M202.6 627.9L201.8 628.7"/>
<path d="M253 612.5L256.2 612.5M253 629.5L256.2 629.5M253 612.5L250.6 613.3M256.2 612.5L258.7 613.3M258.7 619L256.2 619.8M258.7 621.4L259.5 623.8M250.6 628.7L253 629.5M258.7 628.7L256.2 629.5M258.7 614.9L258.7 617.4M259.5 614.9L259.5 617.4M253.8 619.8L256.2 619.8M259.5 623.8L259.5 626.3M260.3 623.8L260.3 626.3M257.9 620.6L259.5 622.2M256.2 612.5L257.9 613.3M257.9 613.3L258.7 614.9M258.7 613.3L259.5 614.9M249.8 614.1L248.9 615.7M258.7 617.4L257.9 619M259.5 617.4L258.7 619M257.9 619L256.2 619.8M256.2 619.8L257.9 620.6M259.5 622.2L260.3 623.8M248.9 626.3L249.8 627.9M259.5 626.3L258.7 627.9M260.3 626.3L259.5 627.9M257.9 628.7L256.2 629.5M250.6 613.3L249.8 614.1M249.8 615.7L250.6 616.5M248.9 616.5L249.8 617.4M250.6 616.5L249.8 617.4M249.8 624.6L248.9 625.5M249.8 624.6L250.6 625.5M250.6 625.5L249.8 626.3M249.8 627.9L250.6 628.7M258.7 627.9L257.9 628.7M259.5 627.9L258.7 628.7M248.9 615.7L248.9 616.5M248.9 625.5L248.9 626.3M267.5 615.7L266.7 619.8M268.3 615.7L267.5 619.8M276.4 615.7L277.2 619.8M277.2 615.7L278.1 619.8M266.7 622.2L267.5 626.3M267.5 622.2L268.3 626.3M277.2 622.2L276.4 626.3M278.1 622.2L277.2 626.3M269.1 613.3L267.5 615.7M275.6 613.3L277.2 615.7M267.5 626.3L269.1 628.7M277.2 626.3L275.6 628.7M271.6 612.5L269.1 613.3M273.2 612.5L275.6 613.3M269.1 628.7L271.6 629.5M275.6 628.7L273.2 629.5M266.7 619.8L266.7 622.2M267.5 619.8L267.5 622.2M277.2 619.8L277.2 622.2M278.1 619.8L278.1 622.2M271.6 612.5L270 613.3M273.2 612.5L274.8 613.3M269.1 614.1L268.3 615.7M275.6 614.1L276.4 615.7M268.3 626.3L269.1 627.9M276.4 626.3L275.6 627.9M270 628.7L271.6 629.5M274.8 628.7L273.2 629.5M271.6 612.5L273.2 612.5M271.6 629.5L273.2 629.5M270 613.3L269.1 614.1M274.8 613.3L275.6 614.1M269.1 627.9L270 628.7M275.6 627.9L274.8 628.7"/>
<path d="M329 612.5L329 629.5M328.2 614.1L328.2 629.5M329 612.5L320.1 624.6M320.1 624.6L333.1 624.6M325.8 629.5L331.5 629.5M339.5 615.7L338.7 619.8M340.3 615.7L339.5 619.8M348.4 615.7L349.2 619.8M349.2 615.7L350.1 619.8M338.7 622.2L339.5 626.3M339.5 622.2L340.3 626.3M349.2 622.2L348.4 626.3M350.1 622.2L349.2 626.3M341.1 613.3L339.5 615.7M347.6 613.3L349.2 615.7M339.5 626.3L341.1 628.7M349.2 626.3L347.6 628.7M343.6 612.5L341.1 613.3M345.2 612.5L347.6 613.3M341.1 628.7L343.6 629.5M347.6 628.7L345.2 629.5M338.7 619.8L338.7 622.2M339.5 619.8L339.5 622.2M349.2 619.8L349.2 622.2M350.1 619.8L350.1 622.2M343.6 612.5L342 613.3M345.2 612.5L346.8 613.3M341.1 614.1L340.3 615.7M347.6 614.1L348.4 615.7M340.3 626.3L341.1 627.9M348.4 626.3L347.6 627.9M342 628.7L343.6 629.5M346.8 628.7L345.2 629.5M343.6 612.5L345.2 612.5M343.6 629.5L345.2 629.5M342 613.3L341.1 614.1M346.8 613.3L347.6 614.1M341.1 627.9L342 628.7M347.6 627.9L346.8 628.7"/>
<path d="M394.6 612.5L392.9 620.6M394.6 612.5L402.7 612.5M402.7 612.5L398.6 613.3M394.6 613.3L398.6 613.3M397 618.2L394.6 619M399.4 618.2L401.9 619M402.7 620.6L403.5 623M403.5 620.6L404.3 623M403.5 624.6L402.7 627.1M404.3 624.6L403.5 627.1M394.6 628.7L397 629.5M401.9 628.7L399.4 629.5M397 618.2L399.4 618.2M397 629.5L399.4 629.5M394.6 619L392.9 620.6M401 619L402.7 620.6M401.9 619L403.5 620.6M402.7 627.1L401 628.7M403.5 627.1L401.9 628.7M399.4 618.2L401 619M392.9 626.3L393.8 627.9M401 628.7L399.4 629.5M403.5 623L403.5 624.6M404.3 623L404.3 624.6M393.8 624.6L392.9 625.5M393.8 624.6L394.6 625.5M394.6 625.5L393.8 626.3M393.8 627.9L394.6 628.7M392.9 625.5L392.9 626.3M411.5 615.7L410.7 619.8M412.3 615.7L411.5 619.8M420.4 615.7L421.2 619.8M421.2 615.7L422.1 619.8M410.7 622.2L411.5 626.3M411.5 622.2L412.3 626.3M421.2 622.2L420.4 626.3M422.1 622.2L421.2 626.3M413.1 613.3L411.5 615.7M419.6 613.3L421.2 615.7M411.5 626.3L413.1 628.7M421.2 626.3L419.6 628.7M415.6 612.5L413.1 613.3M417.2 612.5L419.6 613.3M413.1 628.7L415.6 629.5M419.6 628.7L417.2 629.5M410.7 619.8L410.7 622.2M411.5 619.8L411.5 622.2M421.2 619.8L421.2 622.2M422.1 619.8L422.1 622.2M415.6 612.5L414 613.3M417.2 612.5L418.8 613.3M413.1 614.1L412.3 615.7M419.6 614.1L420.4 615.7M412.3 626.3L413.1 627.9M420.4 626.3L419.6 627.9M414 628.7L415.6 629.5M418.8 628.7L417.2 629.5M415.6 612.5L417.2 612.5M415.6 629.5L417.2 629.5M414 613.3L413.1 614.1M418.8 613.3L419.6 614.1M413.1 627.9L414 628.7M419.6 627.9L418.8 628.7"/>
<path d="M464.9 619.8L464.9 624.6M465.8 619.8L465.8 624.6M465.8 616.5L464.9 619.8M466.6 616.5L465.8 619.8M470.6 612.5L468.2 613.3M470.6 619L468.2 619.8M471.4 619L473.9 619.8M466.6 621.4L465.8 623.8M474.7 621.4L475.5 623.8M475.5 621.4L476.3 623.8M464.9 624.6L465.8 627.1M465.8 624.6L466.6 627.1M475.5 624.6L474.7 627.1M476.3 624.6L475.5 627.1M467.4 628.7L469.8 629.5M473.9 628.7L471.4 629.5M470.6 612.5L473 612.5M468.2 613.3L466.6 614.9M469 613.3L467.4 614.9M468.2 619.8L466.6 621.4M473 619.8L474.7 621.4M473.9 619.8L475.5 621.4M465.8 627.1L467.4 628.7M466.6 627.1L468.2 628.7M474.7 627.1L473 628.7M475.5 627.1L473.9 628.7M470.6 612.5L469 613.3M473 612.5L474.7 613.3M474.7 613.3L475.5 614.9M466.6 614.9L465.8 616.5M467.4 614.9L466.6 616.5M471.4 619L473 619.8M468.2 628.7L469.8 629.5M473 628.7L471.4 629.5M469.8 629.5L471.4 629.5M474.7 614.9L473.9 615.7M473.9 615.7L474.7 616.5M475.5 615.7L474.7 616.5M475.5 614.9L475.5 615.7M470.6 619L471.4 619M475.5 623.8L475.5 624.6M476.3 623.8L476.3 624.6M483.5 615.7L482.7 619.8M484.3 615.7L483.5 619.8M492.4 615.7L493.2 619.8M493.2 615.7L494.1 619.8M482.7 622.2L483.5 626.3M483.5 622.2L484.3 626.3M493.2 622.2L492.4 626.3M494.1 622.2L493.2 626.3M485.1 613.3L483.5 615.7M491.6 613.3L493.2 615.7M483.5 626.3L485.1 628.7M493.2 626.3L491.6 628.7M487.6 612.5L485.1 613.3M489.2 612.5L491.6 613.3M485.1 628.7L487.6 629.5M491.6 628.7L489.2 629.5M482.7 619.8L482.7 622.2M483.5 619.8L483.5 622.2M493.2 619.8L493.2 622.2M494.1 619.8L494.1 622.2M487.6 612.5L486 613.3M489.2 612.5L490.8 613.3M485.1 614.1L484.3 615.7M491.6 614.1L492.4 615.7M484.3 626.3L485.1 627.9M492.4 626.3L491.6 627.9M486 628.7L487.6 629.5M490.8 628.7L489.2 629.5M487.6 612.5L489.2 612.5M487.6 629.5L489.2 629.5M486 613.3L485.1 614.1M490.8 613.3L491.6 614.1M485.1 627.9L486 628.7M491.6 627.9L490.8 628.7"/>
<path d="M548.5 617.4L544.4 621.4M548.5 617.4L545.2 621.4M537.9 612.5L537.9 617.4M542 612.5L546 614.9M542 613.3L546 614.9M542.8 625.5L542.8 629.5M543.6 625.5L543.6 629.5M549.3 614.9L548.5 617.4M543.6 623L542.8 625.5M544.4 623L543.6 625.5M549.3 612.5L549.3 614.9M540.4 612.5L538.8 614.1M549.3 612.5L548.5 614.1M540.4 613.3L538.8 614.1M538.8 614.1L537.9 615.7M544.4 621.4L543.6 623M545.2 621.4L544.4 623M540.4 612.5L542 612.5M540.4 613.3L542 613.3M546 614.9L547.7 614.9M548.5 614.1L547.7 614.9M556.5 615.7L555.7 619.8M557.3 615.7L556.5 619.8M565.4 615.7L566.2 619.8M566.2 615.7L567.1 619.8M555.7 622.2L556.5 626.3M556.5 622.2L557.3 626.3M566.2 622.2L565.4 626.3M567.1 622.2L566.2 626.3M558.1 613.3L556.5 615.7M564.6 613.3L566.2 615.7M556.5 626.3L558.1 628.7M566.2 626.3L564.6 628.7M560.6 612.5L558.1 613.3M562.2 612.5L564.6 613.3M558.1 628.7L560.6 629.5M564.6 628.7L562.2 629.5M555.7 619.8L555.7 622.2M556.5 619.8L556.5 622.2M566.2 619.8L566.2 622.2M567.1 619.8L567.1 622.2M560.6 612.5L559 613.3M562.2 612.5L563.8 613.3M558.1 614.1L557.3 615.7M564.6 614.1L565.4 615.7M557.3 626.3L558.1 627.9M565.4 626.3L564.6 627.9M559 628.7L560.6 629.5M563.8 628.7L562.2 629.5M560.6 612.5L562.2 612.5M560.6 629.5L562.2 629.5M559 613.3L558.1 614.1M563.8 613.3L564.6 614.1M558.1 627.9L559 628.7M564.6 627.9L563.8 628.7"/>
<path d="M614 612.5L617.2 612.5M614 619.8L617.2 619.8M609.9 623L609.9 626.3M610.8 623L610.8 626.3M620.5 623L620.5 626.3M621.3 623L621.3 626.3M614 629.5L617.2 629.5M614 612.5L611.6 613.3M617.2 612.5L619.7 613.3M611.6 619L614 619.8M619.7 619L617.2 619.8M614 619.8L611.6 620.6M617.2 619.8L619.7 620.6M611.6 628.7L614 629.5M619.7 628.7L617.2 629.5M610.8 614.9L610.8 617.4M611.6 614.9L611.6 617.4M619.7 614.9L619.7 617.4M620.5 614.9L620.5 617.4M614 612.5L612.4 613.3M617.2 612.5L618.9 613.3M611.6 613.3L610.8 614.9M612.4 613.3L611.6 614.9M618.9 613.3L619.7 614.9M619.7 613.3L620.5 614.9M610.8 617.4L611.6 619M611.6 617.4L612.4 619M619.7 617.4L618.9 619M620.5 617.4L619.7 619M612.4 619L614 619.8M618.9 619L617.2 619.8M614 619.8L612.4 620.6M617.2 619.8L618.9 620.6M610.8 621.4L609.9 623M611.6 621.4L610.8 623M619.7 621.4L620.5 623M620.5 621.4L621.3 623M609.9 626.3L610.8 627.9M610.8 626.3L611.6 627.9M620.5 626.3L619.7 627.9M621.3 626.3L620.5 627.9M612.4 628.7L614 629.5M618.9 628.7L617.2 629.5M611.6 620.6L610.8 621.4M612.4 620.6L611.6 621.4M618.9 620.6L619.7 621.4M619.7 620.6L620.5 621.4M610.8 627.9L611.6 628.7M611.6 627.9L612.4 628.7M619.7 627.9L618.9 628.7M620.5 627.9L619.7 628.7M628.5 615.7L627.7 619.8M629.3 615.7L628.5 619.8M637.4 615.7L638.2 619.8M638.2 615.7L639.1 619.8M627.7 622.2L628.5 626.3M628.5 622.2L629.3 626.3M638.2 622.2L637.4 626.3M639.1 622.2L638.2 626.3M630.1 613.3L628.5 615.7M636.6 613.3L638.2 615.7M628.5 626.3L630.1 628.7M638.2 626.3L636.6 628.7M632.6 612.5L630.1 613.3M634.2 612.5L636.6 613.3M630.1 628.7L632.6 629.5M636.6 628.7L634.2 629.5M627.7 619.8L627.7 622.2M628.5 619.8L628.5 622.2M638.2 619.8L638.2 622.2M639.1 619.8L639.1 622.2M632.6 612.5L631 613.3M634.2 612.5L635.8 613.3M630.1 614.1L629.3 615.7M636.6 614.1L637.4 615.7M629.3 626.3L630.1 627.9M637.4 626.3L636.6 627.9M631 628.7L632.6 629.5M635.8 628.7L634.2 629.5M632.6 612.5L634.2 612.5M632.6 629.5L634.2 629.5M631 613.3L630.1 614.1M635.8 613.3L636.6 614.1M630.1 627.9L631 628.7M636.6 627.9L635.8 628.7"/>
<path d="M692.5 617.4L692.5 622.2M693.3 617.4L693.3 622.2M692.5 622.2L691.7 625.5M693.3 622.2L692.5 625.5M686.8 612.5L684.4 613.3M688.4 612.5L690.9 613.3M682.8 614.9L681.9 617.4M683.6 614.9L682.8 617.4M691.7 614.9L692.5 617.4M692.5 614.9L693.3 617.4M681.9 618.2L682.8 620.6M682.8 618.2L683.6 620.6M692.5 618.2L691.7 620.6M684.4 622.2L686.8 623M690 622.2L687.6 623M690 628.7L687.6 629.5M685.2 629.5L687.6 629.5M684.4 613.3L682.8 614.9M685.2 613.3L683.6 614.9M690 613.3L691.7 614.9M690.9 613.3L692.5 614.9M682.8 620.6L684.4 622.2M683.6 620.6L685.2 622.2M691.7 620.6L690 622.2M690.9 627.1L689.2 628.7M691.7 627.1L690 628.7M686.8 612.5L685.2 613.3M688.4 612.5L690 613.3M685.2 622.2L686.8 623M691.7 625.5L690.9 627.1M692.5 625.5L691.7 627.1M682.8 627.1L683.6 628.7M683.6 628.7L685.2 629.5M689.2 628.7L687.6 629.5M686.8 612.5L688.4 612.5M683.6 625.5L682.8 626.3M683.6 625.5L684.4 626.3M684.4 626.3L683.6 627.1M681.9 617.4L681.9 618.2M682.8 617.4L682.8 618.2M686.8 623L687.6 623M682.8 626.3L682.8 627.1M700.5 615.7L699.7 619.8M701.3 615.7L700.5 619.8M709.4 615.7L710.2 619.8M710.2 615.7L711.1 619.8M699.7 622.2L700.5 626.3M700.5 622.2L701.3 626.3M710.2 622.2L709.4 626.3M711.1 622.2L710.2 626.3M702.1 613.3L700.5 615.7M708.6 613.3L710.2 615.7M700.5 626.3L702.1 628.7M710.2 626.3L708.6 628.7M704.6 612.5L702.1 613.3M706.2 612.5L708.6 613.3M702.1 628.7L704.6 629.5M708.6 628.7L706.2 629.5M699.7 619.8L699.7 622.2M700.5 619.8L700.5 622.2M710.2 619.8L710.2 622.2M711.1 619.8L711.1 622.2M704.6 612.5L703 613.3M706.2 612.5L707.8 613.3M702.1 614.1L701.3 615.7M708.6 614.1L709.4 615.7M701.3 626.3L702.1 627.9M709.4 626.3L708.6 627.9M703 628.7L704.6 629.5M707.8 628.7L706.2 629.5M704.6 612.5L706.2 612.5M704.6 629.5L706.2 629.5M703 613.3L702.1 614.1M707.8 613.3L708.6 614.1M702.1 627.9L703 628.7M708.6 627.9L707.8 628.7"/>
<path d="M752.1 612.5L752.1 629.5M751.3 613.3L751.3 629.5M748.1 629.5L755.4 629.5M752.1 612.5L749.7 614.9M749.7 614.9L748.1 615.7M764.2 615.7L763.4 619.8M765.1 615.7L764.2 619.8M773.1 615.7L774 619.8M774 615.7L774.8 619.8M763.4 622.2L764.2 626.3M764.2 622.2L765.1 626.3M774 622.2L773.1 626.3M774.8 622.2L774 626.3M765.9 613.3L764.2 615.7M772.3 613.3L774 615.7M764.2 626.3L765.9 628.7M774 626.3L772.3 628.7M768.3 612.5L765.9 613.3M769.9 612.5L772.3 613.3M765.9 628.7L768.3 629.5M772.3 628.7L769.9 629.5M763.4 619.8L763.4 622.2M764.2 619.8L764.2 622.2M774 619.8L774 622.2M774.8 619.8L774.8 622.2M768.3 612.5L766.7 613.3M769.9 612.5L771.5 613.3M765.9 614.1L765.1 615.7M772.3 614.1L773.1 615.7M765.1 626.3L765.9 627.9M773.1 626.3L772.3 627.9M766.7 628.7L768.3 629.5M771.5 628.7L769.9 629.5M768.3 612.5L769.9 612.5M768.3 629.5L769.9 629.5M766.7 613.3L765.9 614.1M771.5 613.3L772.3 614.1M765.9 627.9L766.7 628.7M772.3 627.9L771.5 628.7M782 615.7L781.2 619.8M782.8 615.7L782 619.8M790.9 615.7L791.7 619.8M791.7 615.7L792.6 619.8M781.2 622.2L782 626.3M782 622.2L782.8 626.3M791.7 622.2L790.9 626.3M792.6 622.2L791.7 626.3M783.6 613.3L782 615.7M790.1 613.3L791.7 615.7M782 626.3L783.6 628.7M791.7 626.3L790.1 628.7M786.1 612.5L783.6 613.3M787.7 612.5L790.1 613.3M783.6 628.7L786.1 629.5M790.1 628.7L787.7 629.5M781.2 619.8L781.2 622.2M782 619.8L782 622.2M791.7 619.8L791.7 622.2M792.6 619.8L792.6 622.2M786.1 612.5L784.5 613.3M787.7 612.5L789.3 613.3M783.6 614.1L782.8 615.7M790.1 614.1L790.9 615.7M782.8 626.3L783.6 627.9M790.9 626.3L790.1 627.9M784.5 628.7L786.1 629.5M789.3 628.7L787.7 629.5M786.1 612.5L787.7 612.5M786.1 629.5L787.7 629.5M784.5 613.3L783.6 614.1M789.3 613.3L790.1 614.1M783.6 627.9L784.5 628.7M790.1 627.9L789.3 628.7"/>
<path d="M15.3 590.6L11.2 589.8M15.3 591.5L11.2 590.6M15.3 599.5L11.2 600.4M15.3 600.4L11.2 601.2M8.8 589.8L4.7 590.6M8.8 590.6L4.7 591.5M8.8 600.4L4.7 599.5M8.8 601.2L4.7 600.4M17.7 592.3L15.3 590.6M17.7 598.7L15.3 600.4M4.7 590.6L2.3 592.3M4.7 600.4L2.3 598.7M18.5 594.7L17.7 592.3M18.5 596.3L17.7 598.7M2.3 592.3L1.5 594.7M2.3 598.7L1.5 596.3M11.2 589.8L8.8 589.8M11.2 590.6L8.8 590.6M11.2 600.4L8.8 600.4M11.2 601.2L8.8 601.2M18.5 594.7L17.7 593.1M18.5 596.3L17.7 597.9M16.9 592.3L15.3 591.5M16.9 598.7L15.3 599.5M4.7 591.5L3.1 592.3M4.7 599.5L3.1 598.7M2.3 593.1L1.5 594.7M2.3 597.9L1.5 596.3M18.5 594.7L18.5 596.3M1.5 594.7L1.5 596.3M17.7 593.1L16.9 592.3M17.7 597.9L16.9 598.7M3.1 592.3L2.3 593.1M3.1 598.7L2.3 597.9"/>
<path d="M18.5 510.3L0.5 510.3M17.6 509.5L0.5 509.5M0.5 506.3L0.5 513.5M18.5 510.3L15.9 507.9M15.9 507.9L15.1 506.3"/>
<path d="M10.4 426.9L8 421.3M10.4 426.1L8 421.3M3.9 421.3L1.5 425.3M3.9 421.3L2.3 425.3M18.5 422.9L18.5 426.1M1.5 425.3L1.5 428.6M12 428.6L10.4 426.1M12 429.4L10.4 426.9M18.5 422.9L17.7 420.4M18.5 426.1L17.7 428.6M6.4 419.6L3.9 418.8M3.9 418.8L1.5 418.8M2.3 425.3L2.3 427.7M8 421.3L6.4 419.6M18.5 426.1L17.7 427.7M16.9 419.6L15.3 418.8M16.9 428.6L15.3 429.4M16.9 429.4L15.3 430.2M13.7 429.4L12 428.6M13.7 430.2L12 429.4M3.9 430.2L2.3 429.4M3.1 429.4L2.3 427.7M15.3 429.4L13.7 429.4M15.3 430.2L13.7 430.2M5.6 430.2L3.9 430.2M3.9 419.6L3.9 421.3M17.7 420.4L16.9 419.6M17.7 427.7L16.9 428.6M17.7 428.6L16.9 429.4M15.3 419.6L14.5 420.4M14.5 418.8L13.7 419.6M14.5 420.4L13.7 419.6M3.9 419.6L3.1 418.8M3.9 430.2L3.1 429.4M2.3 429.4L1.5 428.6M15.3 418.8L14.5 418.8"/>
<path d="M18.5 336.9L18.5 340.1M1.5 336.9L1.5 340.1M18.5 336.9L17.7 334.4M18.5 340.1L17.7 342.6M12 342.6L11.2 340.1M9.6 342.6L7.2 343.4M2.3 334.4L1.5 336.9M2.3 342.6L1.5 340.1M16.1 342.6L13.7 342.6M16.1 343.4L13.7 343.4M11.2 337.7L11.2 340.1M7.2 343.4L4.7 343.4M7.2 344.2L4.7 344.2M10.4 341.7L8.8 343.4M18.5 340.1L17.7 341.7M17.7 341.7L16.1 342.6M17.7 342.6L16.1 343.4M16.9 333.6L15.3 332.8M13.7 342.6L12 341.7M13.7 343.4L12 342.6M12 341.7L11.2 340.1M11.2 340.1L10.4 341.7M8.8 343.4L7.2 344.2M4.7 332.8L3.1 333.6M4.7 343.4L3.1 342.6M4.7 344.2L3.1 343.4M2.3 341.7L1.5 340.1M17.7 334.4L16.9 333.6M15.3 333.6L14.5 334.4M14.5 332.8L13.7 333.6M14.5 334.4L13.7 333.6M6.4 333.6L5.6 332.8M6.4 333.6L5.6 334.4M5.6 334.4L4.7 333.6M3.1 333.6L2.3 334.4M3.1 342.6L2.3 341.7M3.1 343.4L2.3 342.6M15.3 332.8L14.5 332.8M5.6 332.8L4.7 332.8"/>
<path d="M18.5 254.9L0.5 254.9M16.8 254.1L0.5 254.1M18.5 254.9L5.6 246M5.6 246L5.6 259M0.5 251.7L0.5 257.4"/>
<path d="M18.5 162.4L10.4 160.8M18.5 162.4L18.5 170.6M18.5 170.6L17.7 166.5M17.7 162.4L17.7 166.5M12.8 164.9L12 162.4M12.8 167.3L12 169.7M10.4 170.6L8 171.4M10.4 171.4L8 172.2M6.4 171.4L3.9 170.6M6.4 172.2L3.9 171.4M2.3 162.4L1.5 164.9M2.3 169.7L1.5 167.3M12.8 164.9L12.8 167.3M1.5 164.9L1.5 167.3M12 162.4L10.4 160.8M12 168.9L10.4 170.6M12 169.7L10.4 171.4M3.9 170.6L2.3 168.9M3.9 171.4L2.3 169.7M12.8 167.3L12 168.9M4.7 160.8L3.1 161.6M2.3 168.9L1.5 167.3M8 171.4L6.4 171.4M8 172.2L6.4 172.2M6.4 161.6L5.6 160.8M6.4 161.6L5.6 162.4M5.6 162.4L4.7 161.6M3.1 161.6L2.3 162.4M5.6 160.8L4.7 160.8"/>
<path d="M11.2 74.8L6.4 74.8M11.2 75.6L6.4 75.6M14.5 75.6L11.2 74.8M14.5 76.5L11.2 75.6M18.5 80.5L17.7 78.1M12 80.5L11.2 78.1M12 81.3L11.2 83.7M9.6 76.5L7.2 75.6M9.6 84.5L7.2 85.4M9.6 85.4L7.2 86.2M6.4 74.8L3.9 75.6M6.4 75.6L3.9 76.5M6.4 85.4L3.9 84.5M6.4 86.2L3.9 85.4M2.3 77.3L1.5 79.7M2.3 83.7L1.5 81.3M18.5 80.5L18.5 82.9M17.7 78.1L16.1 76.5M17.7 78.9L16.1 77.3M11.2 78.1L9.6 76.5M11.2 82.9L9.6 84.5M11.2 83.7L9.6 85.4M3.9 75.6L2.3 77.3M3.9 76.5L2.3 78.1M3.9 84.5L2.3 82.9M3.9 85.4L2.3 83.7M18.5 80.5L17.7 78.9M18.5 82.9L17.7 84.5M17.7 84.5L16.1 85.4M16.1 76.5L14.5 75.6M16.1 77.3L14.5 76.5M12 81.3L11.2 82.9M2.3 78.1L1.5 79.7M2.3 82.9L1.5 81.3M1.5 79.7L1.5 81.3M16.1 84.5L15.3 83.7M15.3 83.7L14.5 84.5M15.3 85.4L14.5 84.5M16.1 85.4L15.3 85.4M12 80.5L12 81.3M7.2 85.4L6.4 85.4M7.2 86.2L6.4 86.2"/>
</g>
</svg>
</body></html>
